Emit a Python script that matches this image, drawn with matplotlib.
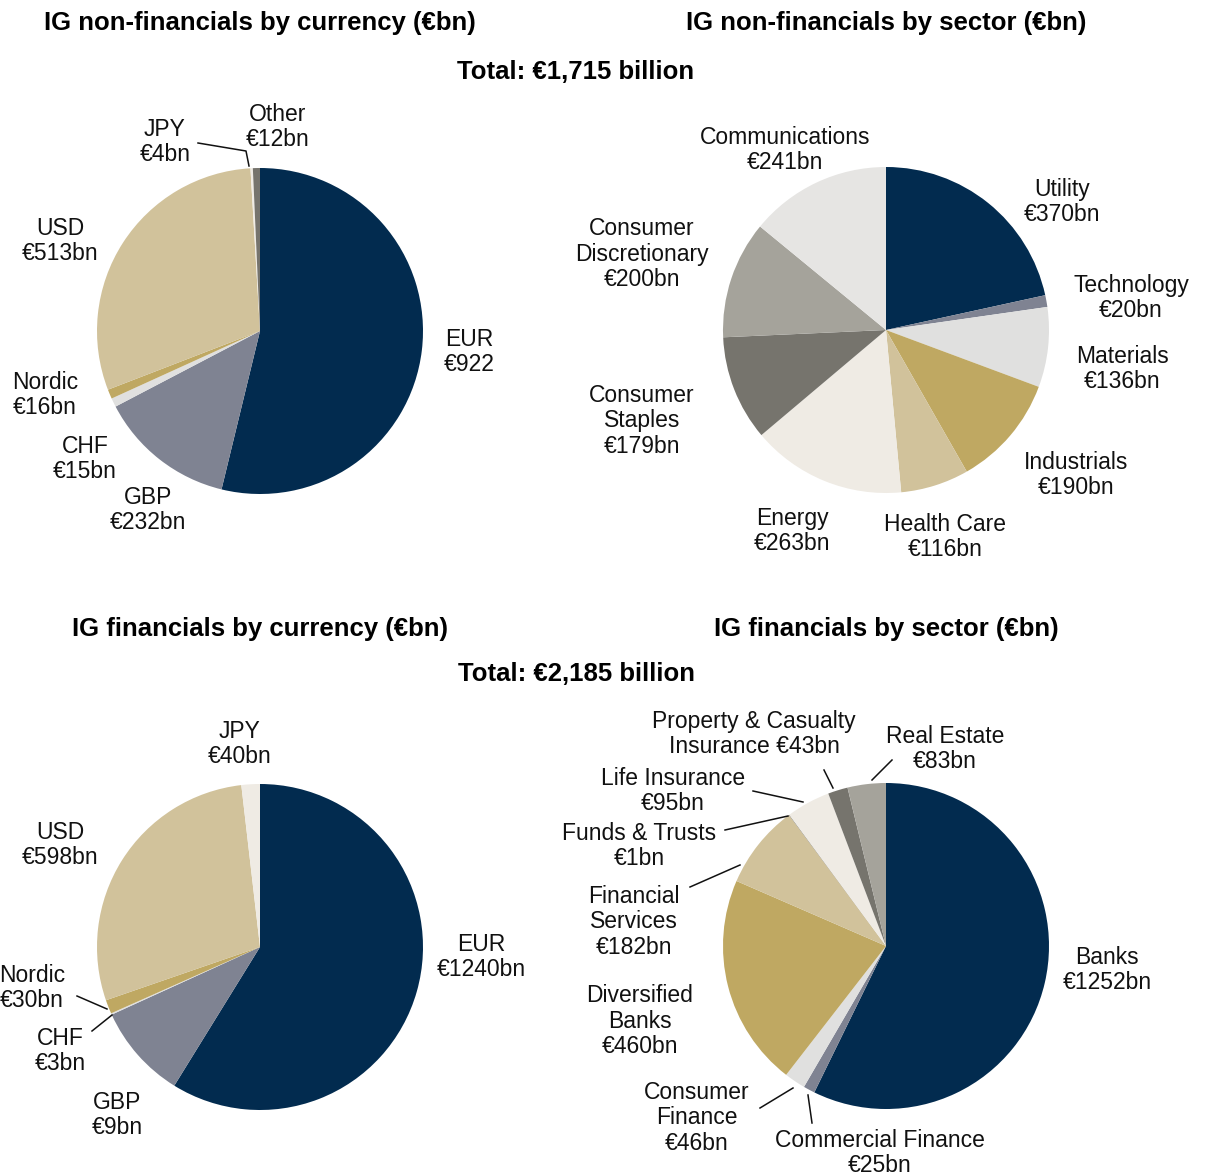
import matplotlib
matplotlib.use("Agg")
import matplotlib.pyplot as plt

W, H = 1205, 1176
R = 163

# colours used in all four pies
NAVY = "#022b4f"
SLATE = "#7f8392"
LGREY = "#e0e0df"
GOLD = "#bfa862"
TAN = "#d1c29b"
CREAM = "#efebe4"
DGREY = "#76746d"
GREY = "#a5a39b"
PALE = "#e6e5e3"

# IG non-financials by currency
cur_nf_names = ["EUR", "GBP", "CHF", "Nordic", "USD", "JPY", "Other"]
cur_nf_values = [922, 232, 15, 16, 513, 4, 12]
cur_nf_labels = ["EUR\n€922", "GBP\n€232bn", "CHF\n€15bn", "Nordic\n€16bn",
                 "USD\n€513bn", "JPY\n€4bn", "Other\n€12bn"]

# IG non-financials by sector
sec_nf_names = ["Utility", "Technology", "Materials", "Industrials", "Health Care",
                "Energy", "Consumer Staples", "Consumer Discretionary", "Communications"]
sec_nf_values = [370, 20, 136, 190, 116, 263, 179, 200, 241]
sec_nf_labels = ["Utility\n€370bn", "Technology\n€20bn", "Materials\n€136bn",
                 "Industrials\n€190bn", "Health Care\n€116bn", "Energy\n€263bn",
                 "Consumer\nStaples\n€179bn", "Consumer\nDiscretionary\n€200bn",
                 "Communications\n€241bn"]

# IG financials by currency (wedge sizes as drawn in the source)
cur_f_names = ["EUR", "GBP", "CHF", "Nordic", "USD", "JPY"]
cur_f_values = [1285, 205, 3, 30, 622, 40]
cur_f_labels = ["EUR\n€1240bn", "GBP\n€9bn", "CHF\n€3bn", "Nordic\n€30bn",
                "USD\n€598bn", "JPY\n€40bn"]

# IG financials by sector
sec_f_names = ["Banks", "Commercial Finance", "Consumer Finance", "Diversified Banks",
               "Financial Services", "Funds & Trusts", "Life Insurance",
               "Property & Casualty Insurance", "Real Estate"]
sec_f_values = [1252, 25, 46, 460, 182, 1, 95, 43, 83]
sec_f_labels = ["Banks\n€1252bn", "Commercial Finance\n€25bn", "Consumer\nFinance\n€46bn",
                "Diversified\nBanks\n€460bn", "Financial\nServices\n€182bn",
                "Funds & Trusts\n€1bn", "Life Insurance\n€95bn",
                "Property & Casualty\nInsurance €43bn", "Real Estate\n€83bn"]

cur_nf_colors = [NAVY, SLATE, LGREY, GOLD, TAN, CREAM, DGREY]
sec_nf_colors = [NAVY, SLATE, LGREY, GOLD, TAN, CREAM, DGREY, GREY, PALE]
cur_f_colors = [NAVY, SLATE, LGREY, GOLD, TAN, CREAM]
sec_f_colors = [NAVY, SLATE, LGREY, GOLD, TAN, DGREY, CREAM, DGREY, GREY]

plt.rcParams["font.family"] = ["Liberation Sans", "DejaVu Sans"]

fig = plt.figure(figsize=(W / 100, H / 100), dpi=100)


def fx(px):
    return px / W


def fy(py):
    return 1 - py / H


def pie_at(cx, cy, values, colors):
    ax = fig.add_axes([fx(cx - R), fy(cy + R), 2 * R / W, 2 * R / H])
    ax.pie(values, colors=colors, startangle=90, counterclock=False,
           radius=1, wedgeprops=dict(linewidth=0))
    ax.set_xlim(-1, 1)
    ax.set_ylim(-1, 1)
    ax.set_aspect("equal")
    ax.axis("off")
    return ax


def label(px, py, s, **kw):
    fig.text(fx(px), fy(py + 2), s, ha="center", va="center", fontsize=16.5,
             linespacing=1.12, color="#111111", **kw)


def leader(pts):
    xs = [fx(p[0]) for p in pts]
    ys = [fy(p[1]) for p in pts]
    fig.add_artist(plt.Line2D(xs, ys, color="#111111", lw=1.1,
                              transform=fig.transFigure))


title_kw = dict(ha="center", va="center", fontsize=18.5, fontweight="bold")

fig.text(fx(260), fy(23), "IG non-financials by currency (€bn)", **title_kw)
fig.text(fx(886), fy(23), "IG non-financials by sector (€bn)", **title_kw)
fig.text(fx(576), fy(72), "Total: €1,715 billion", **title_kw)
fig.text(fx(260), fy(629), "IG financials by currency (€bn)", **title_kw)
fig.text(fx(886), fy(629), "IG financials by sector (€bn)", **title_kw)
fig.text(fx(576), fy(674), "Total: €2,185 billion", **title_kw)

pie_at(260, 331, cur_nf_values, cur_nf_colors)
pie_at(886, 330, sec_nf_values, sec_nf_colors)
pie_at(260, 947, cur_f_values, cur_f_colors)
pie_at(886, 946, sec_f_values, sec_f_colors)

# top-left labels
pos = [(469, 350), (148, 508), (85, 457), (45, 393), (60, 239), (165, 140), (278, 125)]
for (px, py), s in zip(pos, cur_nf_labels):
    label(px, py, s)
leader([(198, 143), (246, 151), (249, 166)])

# top-right labels
pos = [(1062, 200), (1131, 296), (1122, 367), (1076, 473), (945, 535),
       (792, 529), (642, 419), (642, 252), (785, 148)]
for (px, py), s in zip(pos, sec_nf_labels):
    label(px, py, s)

# bottom-left labels
pos = [(481, 955), (117, 1113), (60, 1049), (32, 986), (60, 843), (240, 742)]
for (px, py), s in zip(pos, cur_f_labels):
    label(px, py, s)
leader([(77, 996), (107, 1009)])
leader([(92, 1031), (112, 1015)])

# bottom-right labels
pos = [(1107, 968), (880, 1151), (697, 1116), (640, 1019), (634, 920),
       (639, 844), (673, 789), (754, 732), (945, 747)]
for (px, py), s in zip(pos, sec_f_labels):
    label(px, py, s)
leader([(824, 770), (833, 788)])
leader([(892, 760), (872, 780)])
leader([(753, 791), (803, 802)])
leader([(725, 830), (788, 816)])
leader([(690, 887), (740, 865)])
leader([(760, 1108), (793, 1088)])
leader([(812, 1123), (808, 1095)])

fig.savefig("out.png", dpi=100, facecolor="white")
